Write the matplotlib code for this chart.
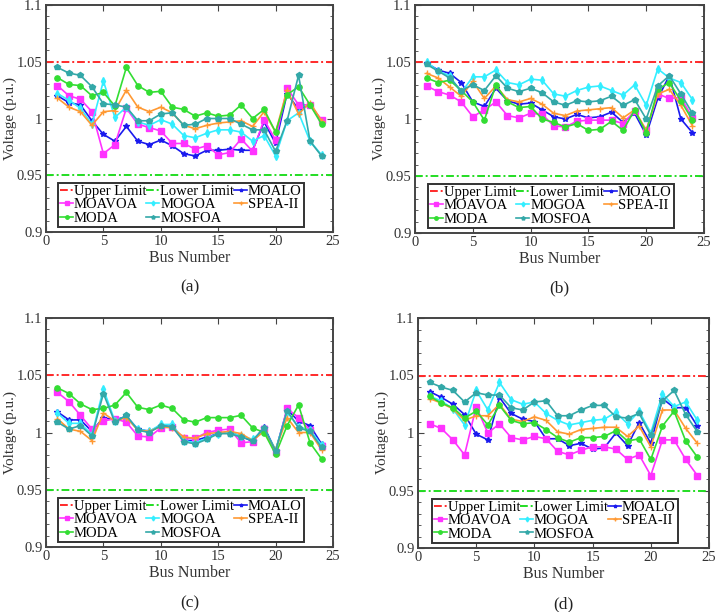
import matplotlib
matplotlib.use("Agg")
import matplotlib.pyplot as plt
from matplotlib.ticker import MultipleLocator, FuncFormatter

plt.rcParams['font.family'] = ['Liberation Serif', 'DejaVu Serif']

bus = list(range(1, 25))
upper_limit = 1.05
lower_limit = 0.95

# panel (a)
moalo_a = [1.020, 1.014, 1.012, 0.998, 0.986, 0.980, 0.993, 0.980, 0.977, 0.981, 0.976, 0.969,
           0.967, 0.972, 0.972, 0.973, 0.972, 0.972, 0.997, 0.978, 1.022, 1.008, 1.012, 0.998]
moavoa_a = [1.029, 1.020, 1.017, 1.006, 0.969, 0.977, 1.009, 0.995, 0.992, 0.989, 0.978, 0.978,
            0.973, 0.976, 0.968, 0.970, 0.982, 0.971, 0.999, 0.981, 1.027, 1.012, 1.012, 0.999]
mogoa_a = [1.022, 1.016, 1.009, 0.995, 1.033, 1.001, 1.010, 0.997, 0.994, 0.999, 0.995, 0.985,
           0.983, 0.987, 0.990, 0.990, 0.988, 0.980, 0.985, 0.967, 0.998, 1.005, 0.980, 0.968]
spea_a = [1.018, 1.010, 1.006, 0.994, 1.006, 1.007, 1.025, 1.010, 1.006, 1.010, 1.005, 0.994,
          0.991, 0.994, 0.996, 0.997, 0.998, 0.993, 1.006, 0.988, 1.025, 1.004, 1.014, 0.998]
moda_a = [1.036, 1.030, 1.029, 1.020, 1.023, 1.011, 1.045, 1.029, 1.023, 1.024, 1.010, 1.008,
          1.002, 1.005, 1.002, 1.003, 1.012, 1.000, 1.008, 0.988, 1.021, 1.028, 1.012, 0.995]
mosfoa_a = [1.045, 1.040, 1.038, 1.028, 1.013, 1.012, 1.010, 0.998, 0.998, 1.004, 1.005, 0.994,
            0.995, 1.000, 1.000, 1.000, 0.995, 0.990, 0.990, 0.971, 0.998, 1.038, 0.980, 0.967]

# panel (b)
moalo_b = [1.049, 1.043, 1.040, 1.032, 1.015, 1.011, 1.027, 1.016, 1.013, 1.014, 1.008, 1.002,
           1.000, 1.004, 1.001, 1.002, 1.006, 0.997, 1.005, 0.986, 1.018, 1.038, 1.000, 0.988]
moavoa_b = [1.029, 1.024, 1.021, 1.015, 1.002, 1.008, 1.015, 1.003, 1.001, 1.005, 1.004, 0.994,
            0.993, 0.998, 0.999, 0.999, 0.999, 0.996, 1.007, 0.990, 1.022, 1.018, 1.019, 1.001]
mogoa_b = [1.050, 1.042, 1.038, 1.023, 1.037, 1.037, 1.043, 1.032, 1.030, 1.035, 1.034, 1.022,
           1.020, 1.025, 1.028, 1.029, 1.025, 1.021, 1.030, 1.012, 1.044, 1.036, 1.032, 1.017]
spea_b = [1.040, 1.036, 1.028, 1.020, 1.033, 1.018, 1.029, 1.017, 1.015, 1.018, 1.013, 1.005,
          1.003, 1.007, 1.008, 1.009, 1.010, 1.001, 1.008, 0.990, 1.022, 1.026, 1.012, 0.994]
moda_b = [1.036, 1.032, 1.034, 1.025, 1.015, 0.999, 1.030, 1.015, 1.010, 1.011, 1.000, 0.997,
          0.993, 0.996, 0.990, 0.991, 0.998, 0.990, 1.008, 0.988, 1.026, 1.032, 1.016, 0.999]
mosfoa_b = [1.048, 1.042, 1.036, 1.025, 1.030, 1.025, 1.038, 1.027, 1.024, 1.027, 1.023, 1.015,
            1.012, 1.016, 1.015, 1.016, 1.020, 1.012, 1.017, 1.000, 1.029, 1.038, 1.022, 1.005]

# panel (c)
moalo_c = [1.018, 1.011, 1.011, 1.001, 1.013, 1.011, 1.014, 1.003, 1.001, 1.006, 1.005, 0.993,
           0.993, 0.996, 0.999, 1.000, 0.997, 0.992, 1.005, 0.984, 1.020, 1.010, 1.006, 0.990]
moavoa_c = [1.035, 1.027, 1.015, 1.003, 1.010, 1.012, 1.009, 0.997, 0.996, 1.004, 1.005, 0.995,
            0.995, 1.000, 1.002, 1.003, 0.991, 0.992, 1.003, 0.983, 1.021, 1.013, 1.002, 0.988]
mogoa_c = [1.017, 1.008, 1.008, 0.998, 1.038, 1.010, 1.014, 1.003, 1.001, 1.007, 1.007, 0.993,
           0.991, 0.995, 0.999, 1.000, 0.997, 0.994, 1.003, 0.985, 1.018, 1.005, 1.002, 0.989]
spea_c = [1.012, 1.003, 1.001, 0.993, 1.017, 1.010, 1.013, 1.002, 1.001, 1.005, 1.004, 0.996,
          0.995, 0.999, 1.000, 1.001, 0.999, 0.993, 1.001, 0.985, 1.013, 1.000, 1.000, 0.985]
moda_c = [1.039, 1.034, 1.025, 1.020, 1.021, 1.024, 1.035, 1.022, 1.020, 1.024, 1.021, 1.011,
          1.009, 1.013, 1.013, 1.013, 1.015, 1.004, 1.000, 0.981, 1.006, 1.024, 0.991, 0.977]
mosfoa_c = [1.009, 1.003, 1.006, 0.997, 1.034, 1.009, 1.015, 1.002, 1.000, 1.006, 1.005, 0.992,
            0.990, 0.994, 0.999, 0.999, 0.996, 0.993, 1.004, 0.984, 1.019, 1.004, 1.001, 0.987]

# panel (d)
moalo_d = [1.036, 1.031, 1.025, 1.016, 0.999, 0.994, 1.031, 1.017, 1.012, 1.010, 0.995, 0.995,
           0.989, 0.991, 0.986, 0.987, 1.000, 0.989, 1.009, 0.991, 1.030, 1.022, 1.022, 1.006]
moavoa_d = [1.008, 1.004, 0.994, 0.981, 1.023, 1.000, 1.008, 0.996, 0.994, 0.997, 0.995, 0.984,
            0.981, 0.985, 0.988, 0.988, 0.986, 0.977, 0.981, 0.963, 0.994, 0.994, 0.977, 0.963]
mogoa_d = [1.032, 1.028, 1.021, 1.007, 1.037, 1.020, 1.044, 1.029, 1.025, 1.027, 1.017, 1.011,
           1.007, 1.009, 1.011, 1.012, 1.018, 1.008, 1.019, 1.000, 1.034, 1.023, 1.027, 1.011]
spea_d = [1.030, 1.026, 1.021, 1.011, 1.015, 1.015, 1.025, 1.012, 1.010, 1.014, 1.011, 1.001,
          0.999, 1.003, 1.004, 1.005, 1.005, 0.997, 1.006, 0.988, 1.020, 1.020, 1.004, 0.991]
moda_d = [1.032, 1.026, 1.022, 1.013, 1.019, 1.007, 1.024, 1.011, 1.008, 1.009, 1.003, 0.996,
          0.992, 0.996, 0.996, 0.997, 1.002, 0.993, 0.995, 0.977, 1.006, 1.019, 0.993, 0.979]
mosfoa_d = [1.044, 1.040, 1.037, 1.027, 1.035, 1.033, 1.033, 1.022, 1.020, 1.027, 1.028, 1.015,
            1.015, 1.020, 1.024, 1.024, 1.014, 1.013, 1.017, 0.998, 1.028, 1.037, 1.016, 1.001]

names = ["MOALO", "MOAVOA", "MOGOA", "SPEA-II", "MODA", "MOSFOA"]
colors = ["#1a1aee", "#ff33ff", "#33eeff", "#ff9933", "#33dd33", "#33a8a8"]
markers = ["*", "s", "d", "+", "o", "p"]

panels = [
    ("(a)", [moalo_a, moavoa_a, mogoa_a, spea_a, moda_a, mosfoa_a]),
    ("(b)", [moalo_b, moavoa_b, mogoa_b, spea_b, moda_b, mosfoa_b]),
    ("(c)", [moalo_c, moavoa_c, mogoa_c, spea_c, moda_c, mosfoa_c]),
    ("(d)", [moalo_d, moavoa_d, mogoa_d, spea_d, moda_d, mosfoa_d]),
]

# axes boxes in pixels: left, right, top, bottom
boxes = [(46, 333, 5, 232), (415, 704, 5, 233), (46, 333, 318, 547), (418, 709, 318, 548)]

W, H = 720, 612
fig = plt.figure(figsize=(W / 100, H / 100), dpi=100)

for (tag, series), (l, r, t, b) in zip(panels, boxes):
    ax = fig.add_axes([l / W, 1 - b / H, (r - l) / W, (b - t) / H])
    hu, = ax.plot([0, 25], [upper_limit, upper_limit], color="#ff2a2a", lw=1.4,
                  dashes=(4, 1.5, 1, 1.5), label="Upper Limit")
    hl, = ax.plot([0, 25], [lower_limit, lower_limit], color="#22dd22", lw=1.4,
                  dashes=(4, 1.5, 1, 1.5), label="Lower Limit")
    hs = []
    for ys, name, c, m in zip(series, names, colors, markers):
        h, = ax.plot(bus, ys, color=c, marker=m, ms=3.8, mew=1, lw=1.2, label=name)
        hs.append(h)

    ax.set_xlim(0, 25)
    ax.set_ylim(0.9, 1.1)
    ax.xaxis.set_major_locator(MultipleLocator(5))
    ax.yaxis.set_major_locator(MultipleLocator(0.05))
    ax.yaxis.set_minor_locator(MultipleLocator(0.01))
    ax.yaxis.set_major_formatter(FuncFormatter(lambda v, p: "%g" % round(v, 3)))
    ax.tick_params(which="both", direction="in", top=True, right=True,
                   labelsize=10.5, color="#444444", labelcolor="#333333")
    ax.tick_params(which="major", length=4, pad=2.5)
    ax.tick_params(which="minor", length=2)
    for s in ax.spines.values():
        s.set_color("#444444")
        s.set_linewidth(1.4)
    ax.set_xlabel("Bus Number", fontsize=11.5, labelpad=1, color="#333333")
    ax.set_ylabel("Voltage (p.u.)", fontsize=11, labelpad=0, color="#333333")
    ax.text(0.5, -0.21, tag, transform=ax.transAxes, ha="center", va="top",
            fontsize=12.5, color="#222222")

    # legend filled row by row: 3 columns
    order = [hu, hs[1], hs[4], hl, hs[2], hs[5], hs[0], hs[3]]
    leg = ax.legend(handles=order, ncol=3, loc="lower center", bbox_to_anchor=(0.47, 0.01),
                    fontsize=10.5, handlelength=0.9, handletextpad=0.05, columnspacing=0.0,
                    labelspacing=0.0, borderpad=0.15, borderaxespad=0.2, fancybox=False,
                    framealpha=1, edgecolor="#333333")
    leg.get_frame().set_linewidth(1.4)
    for h in leg.legend_handles:
        h.set_markersize(2.5)

fig.savefig("out.png", dpi=100)
